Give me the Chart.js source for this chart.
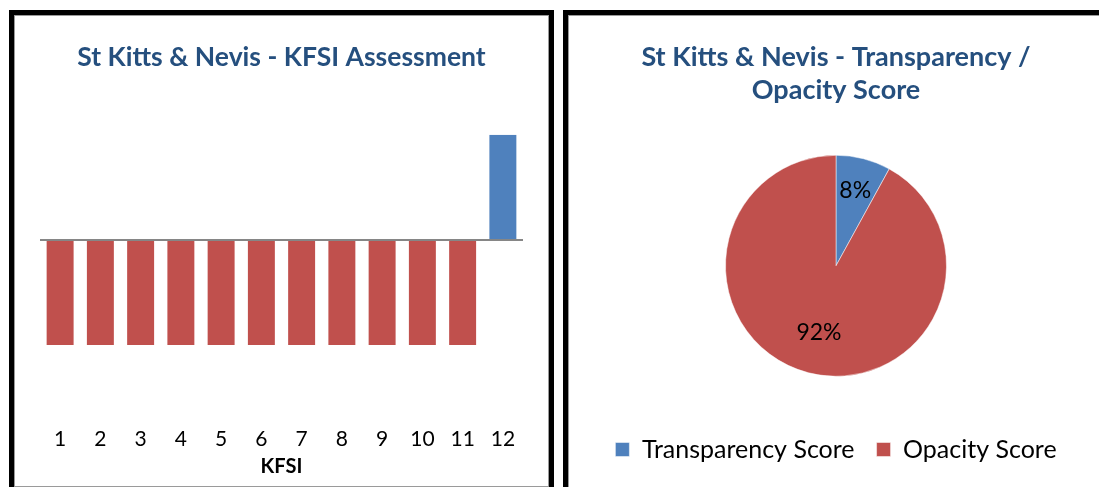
<!DOCTYPE html>
<html>
<head>
<meta charset="utf-8">
<script src="https://cdn.jsdelivr.net/npm/chart.js@4/dist/chart.umd.min.js"></script>
<style>
  body { margin: 0; background: #fff; overflow: hidden; width: 1099px; height: 487px; position: relative; }
  .panel { position: absolute; border: 5px solid #000; box-shadow: inset 0 0 0 1px #9a9a9a; background: #fff; }
  #leftPanel { left: 9px; top: 10px; width: 535px; height: 472px; }
  #rightPanel { left: 563px; top: 10px; width: 536px; height: 480px; }
  canvas { display: block; }
</style>
</head>
<body>
<div class="panel" id="leftPanel"><canvas id="kfsiChart" width="535" height="472"></canvas></div>
<div class="panel" id="rightPanel"><canvas id="scoreChart" width="536" height="472"></canvas></div>
<script>
var kfsiLabels = ["1", "2", "3", "4", "5", "6", "7", "8", "9", "10", "11", "12"];
var kfsiValues = [-1, -1, -1, -1, -1, -1, -1, -1, -1, -1, -1, 1];

var scoreLabels = ["Transparency Score", "Opacity Score"];
var scoreValues = [8, 92];

var blue = "#4F81BD";
var red = "#C0504D";
var titleBlue = "#254F7E";

Chart.defaults.font.family = "Lato, 'Open Sans', sans-serif";
Chart.defaults.color = "#000";
Chart.defaults.animation = false;

// left: KFSI bars
var ctx1 = document.getElementById("kfsiChart").getContext("2d");
new Chart(ctx1, {
  type: "bar",
  data: {
    labels: kfsiLabels,
    datasets: [{
      data: kfsiValues,
      backgroundColor: function (c) {
        return c.raw < 0 ? red : blue;
      },
      barPercentage: 0.67,
      categoryPercentage: 1,
    }],
  },
  options: {
    responsive: false,
    layout: { padding: { left: 26, right: 26, top: 0, bottom: 4 } },
    plugins: {
      legend: { display: false },
      tooltip: { enabled: false },
      title: {
        display: true,
        text: "St Kitts & Nevis - KFSI Assessment",
        color: titleBlue,
        font: { size: 26.5, weight: "bold", lineHeight: 1.2 },
        padding: { top: 27, bottom: 61 },
      },
    },
    scales: {
      x: {
        grid: { display: false, drawTicks: false },
        border: { display: false },
        ticks: { font: { size: 21 }, padding: 3, maxRotation: 0 },
        title: { display: true, text: "KFSI", font: { size: 20, weight: "bold" }, padding: { top: 0, bottom: 4 } },
      },
      y: {
        min: -1.75,
        max: 1,
        ticks: { display: false, stepSize: 0.25 },
        border: { display: false },
        grid: {
          drawTicks: false,
          lineWidth: 2,
          color: function (c) {
            return c.tick && c.tick.value === 0 ? "#868686" : "rgba(0,0,0,0)";
          },
        },
      },
    },
  },
});

// percent labels drawn on slices
var sliceLabels = {
  id: "sliceLabels",
  afterDatasetsDraw: function (chart) {
    var meta = chart.getDatasetMeta(0);
    var values = chart.data.datasets[0].data;
    var total = values.reduce(function (a, b) { return a + b; }, 0);
    var g = chart.ctx;
    g.save();
    g.font = "23px Lato, sans-serif";
    g.fillStyle = "#000";
    g.textAlign = "center";
    g.textBaseline = "middle";
    meta.data.forEach(function (arc, i) {
      var p = arc.getProps(["x", "y", "startAngle", "endAngle", "outerRadius"], true);
      var mid = (p.startAngle + p.endAngle) / 2;
      var r = p.outerRadius * (i === 0 ? 0.7 : 0.62);
      g.fillText(Math.round(values[i] / total * 100) + "%", p.x + Math.cos(mid) * r, p.y + Math.sin(mid) * r);
    });
    g.restore();
  },
};

// right: transparency / opacity pie
var ctx2 = document.getElementById("scoreChart").getContext("2d");
new Chart(ctx2, {
  type: "pie",
  data: {
    labels: scoreLabels,
    datasets: [{
      data: scoreValues,
      backgroundColor: [blue, red],
      borderColor: "#ffffff",
      borderWidth: 0.5,
    }],
  },
  options: {
    responsive: false,
    layout: { padding: { top: 0, bottom: 15 } },
    plugins: {
      legend: {
        position: "bottom",
        title: { display: true, text: " ", font: { size: 10 }, padding: { top: 0, bottom: 26.5 } },
        labels: { boxWidth: 14, boxHeight: 14, font: { size: 25 }, padding: 22 },
      },
      tooltip: { enabled: false },
      title: {
        display: true,
        text: ["St Kitts & Nevis - Transparency /", "Opacity Score"],
        color: titleBlue,
        font: { size: 27, weight: "bold", lineHeight: 1.25 },
        padding: { top: 25, bottom: 47.5 },
      },
    },
  },
  plugins: [sliceLabels],
});
</script>
</body>
</html>
